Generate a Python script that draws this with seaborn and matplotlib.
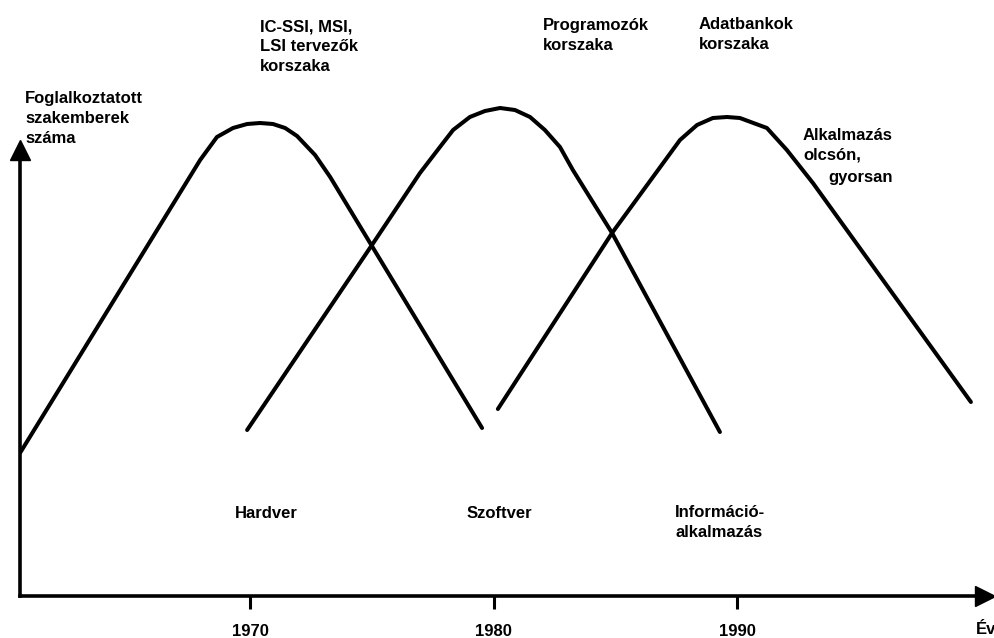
import pandas as pd
import matplotlib
matplotlib.use("Agg")
import matplotlib.pyplot as plt
import seaborn as sns

# Three eras: year / relative number of specialists
hardver_years = [1960.55, 1967.95, 1968.64, 1969.30, 1969.88, 1970.41, 1970.94,
                 1971.44, 1971.93, 1972.67, 1973.29, 1979.53]
hardver_level = [143, 436, 459, 468, 472, 473, 472, 468, 460, 441, 419, 168]

szoftver_years = [1969.88, 1975.09, 1976.98, 1977.80, 1978.34, 1979.03, 1979.65,
                  1980.27, 1980.88, 1981.50, 1982.11, 1982.73, 1983.26, 1984.87, 1989.30]
szoftver_level = [166, 354, 423, 449, 466, 479, 485, 488, 486, 479, 466, 449, 426, 363, 164]

info_years = [1980.18, 1984.87, 1987.66, 1988.36, 1989.01, 1989.59, 1990.12,
              1991.23, 1992.05, 1993.12, 1999.61]
info_level = [187, 363, 456, 471, 478, 479, 478, 468, 446, 413, 194]

tick_years = [1970, 1980, 1990]

# long format table for seaborn
frames = []
for name, xs, ys in [("Hardver", hardver_years, hardver_level),
                     ("Szoftver", szoftver_years, szoftver_level),
                     ("Információ-alkalmazás", info_years, info_level)]:
    frames.append(pd.DataFrame({"ev": xs, "szam": ys, "korszak": name}))
df = pd.concat(frames, ignore_index=True)

sns.set_theme(style="white")
plt.rcParams["font.family"] = ["Liberation Sans", "DejaVu Sans"]
plt.rcParams["text.color"] = "black"

W, H = 995, 638
fig = plt.figure(figsize=(W / 100, H / 100), dpi=100)
ax = fig.add_axes([20 / W, (H - 596) / H, (W - 20) / W, 496 / H])

sns.lineplot(data=df, x="ev", y="szam", hue="korszak", units="korszak",
             estimator=None, sort=False, palette=["black"] * 3,
             linewidth=2.9, legend=False, ax=ax)
for ln in ax.lines:
    ln.set_solid_joinstyle("round")
    ln.set_solid_capstyle("round")

x0, x1 = 1960.55, 2000.60
ax.set_xlim(x0, x1)
ax.set_ylim(0, 496)

# axes with arrow heads
for side in ["top", "right"]:
    ax.spines[side].set_visible(False)
for side in ["left", "bottom"]:
    ax.spines[side].set_linewidth(2.6)
    ax.spines[side].set_color("black")
ax.spines["left"].set_bounds(0, 446)
ax.spines["bottom"].set_bounds(x0, 2000.18)
ax.plot(2000.18, 0, ">", color="black", ms=14, clip_on=False)
ax.plot(x0, 446, "^", color="black", ms=14, clip_on=False)

ax.set_xticks(tick_years)
ax.set_xticklabels([str(t) for t in tick_years], fontweight="bold")
ax.set_yticks([])
ax.tick_params(axis="x", bottom=True, direction="out", length=9, width=2.2,
               pad=11, labelsize=12, colors="black")
ax.set_xlabel("")
ax.set_ylabel("")


def put(x, y, s, **kw):
    # y is the baseline of the last line, in pixels from the top
    fig.text(x / W, 1 - y / H, s, fontsize=12, fontweight="bold", color="black",
             va="baseline", ha="left", linespacing=1.4, **kw)


put(25, 143, "Foglalkoztatott\nszakemberek\nszáma")
put(260, 71, "IC-SSI, MSI,\nLSI tervezők\nkorszaka")
put(543, 50, "Programozók\nkorszaka")
put(699, 49, "Adatbankok\nkorszaka")
put(803, 160, "Alkalmazás\nolcsón,")
put(828, 182, "gyorsan")
put(235, 518, "Hardver")
put(467, 518, "Szoftver")
put(675, 537, "Információ-\nalkalmazás")
put(976, 634, "Év")

fig.savefig("out.png", dpi=100)
